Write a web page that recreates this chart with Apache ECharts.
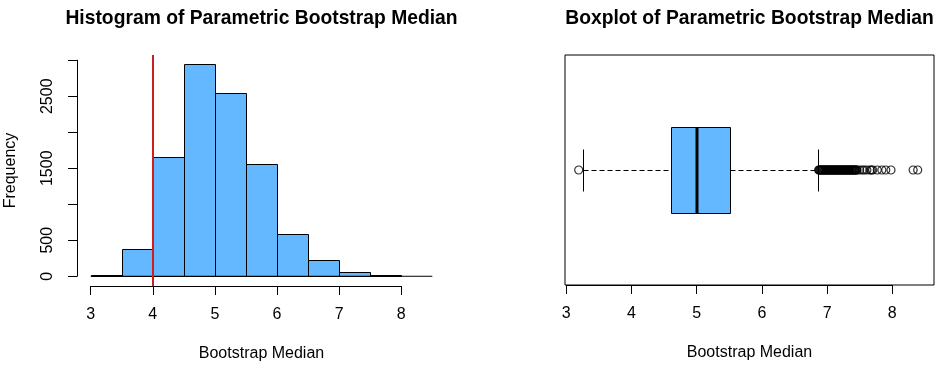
<!DOCTYPE html>
<html><head><meta charset="utf-8">
<script src="https://cdn.jsdelivr.net/npm/echarts@6/dist/echarts.min.js"></script>
<style>html,body{margin:0;padding:0;background:#fff}#c{width:947px;height:370px}</style>
</head><body><div id="c"></div>
<script>
// ---- data ----
const binEdges = [3, 3.5, 4, 4.5, 5, 5.5, 6, 6.5, 7, 7.5, 8];
const binCounts = [15, 375, 1653, 2944, 2542, 1556, 588, 222, 56, 14];
const xTicks = [3, 4, 5, 6, 7, 8];
const xTickLabels = ['3', '4', '5', '6', '7', '8'];
const yTicks = [0, 500, 1000, 1500, 2000, 2500, 3000];
const yTickLabels = ['0', '500', '', '1500', '', '2500', ''];
const refLineX = 4;
const baselineRange = [3, 8.5];
const boxStats = [3.26, 4.60, 5.01, 5.51, 6.86]; // low whisker, Q1, median, Q3, high whisker
const lowOutliers = [3.19];
const highOutliers = [6.87, 6.88, 6.89, 6.90, 6.91, 6.92, 6.93, 6.94, 6.95, 6.96, 6.97, 6.98,
  6.99, 7.00, 7.01, 7.02, 7.03, 7.04, 7.05, 7.06, 7.07, 7.08, 7.09, 7.10, 7.11, 7.12, 7.13,
  7.14, 7.15, 7.16, 7.17, 7.18, 7.19, 7.20, 7.21, 7.22, 7.23, 7.24, 7.25, 7.26, 7.27, 7.28,
  7.29, 7.30, 7.31, 7.32, 7.33, 7.34, 7.35, 7.36, 7.37, 7.38, 7.39, 7.40, 7.41, 7.42, 7.43,
  7.44, 7.45, 7.46, 7.50, 7.54, 7.57, 7.61, 7.66, 7.68, 7.70, 7.77, 7.84, 7.90, 7.98, 8.32, 8.39];
const histTitle = 'Histogram of Parametric Bootstrap Median';
const boxTitle = 'Boxplot of Parametric Bootstrap Median';
const xName = 'Bootstrap Median';
const yName = 'Frequency';

// ---- layout ----
const FONT = '"Liberation Sans", Arial, sans-serif';
const H = {left: 77, top: 55, width: 369, height: 231, xMin: 2.78, xMax: 8.72, yMin: -135, yMax: 3073};
const B = {left: 565, top: 55, width: 369, height: 230, xMin: 2.98, xMax: 8.64, yMin: 0.46, yMax: 1.54};
const hx = v => H.left + (v - H.xMin) / (H.xMax - H.xMin) * H.width;
const hy = v => H.top + H.height - (v - H.yMin) / (H.yMax - H.yMin) * H.height;
const bx = v => B.left + (v - B.xMin) / (B.xMax - B.xMin) * B.width;
const tMin = xTicks[0], tMax = xTicks[xTicks.length - 1];
const yTMin = yTicks[0], yTMax = yTicks[yTicks.length - 1];

const labelStyle = {color: '#000', fontSize: 16, fontFamily: FONT};
const blackLine = {color: '#000', width: 1};
const hidden = {show: false};
const nameOnly = {axisLine: hidden, axisTick: hidden, axisLabel: hidden, splitLine: hidden};

const chart = echarts.init(document.getElementById('c'), null, {renderer: 'canvas'});
const crisp = v => Math.round(v) + 0.5;
const tickFmt = v => xTickLabels[xTicks.indexOf(v)] ?? '';

chart.setOption({
  animation: false,
  backgroundColor: '#fff',
  graphic: [
    {type: 'text', x: H.left + H.width / 2, y: 18.5,
     style: {text: histTitle, font: 'bold 19.3px ' + FONT, fill: '#000', align: 'center', verticalAlign: 'middle'}},
    {type: 'text', x: B.left + B.width / 2, y: 18.5,
     style: {text: boxTitle, font: 'bold 19.3px ' + FONT, fill: '#000', align: 'center', verticalAlign: 'middle'}}
  ],
  grid: [
    {left: H.left, top: H.top, width: H.width, height: H.height},
    {left: hx(tMin), top: H.top, width: hx(tMax) - hx(tMin), height: H.height},
    {left: H.left, top: hy(yTMax), width: H.width, height: hy(yTMin) - hy(yTMax)},
    {left: B.left, top: B.top, width: B.width, height: B.height, show: true, borderColor: '#000', borderWidth: 1, backgroundColor: 'transparent'},
    {left: bx(tMin), top: B.top, width: bx(tMax) - bx(tMin), height: B.height}
  ],
  xAxis: [
    Object.assign({gridIndex: 0, type: 'value', min: H.xMin, max: H.xMax,
     name: xName, nameLocation: 'middle', nameGap: 60, nameTextStyle: labelStyle}, nameOnly),
    {gridIndex: 1, type: 'value', min: tMin, max: tMax, interval: 1,
     axisLine: {show: true, lineStyle: blackLine}, axisTick: {show: true, length: 9, lineStyle: blackLine},
     axisLabel: Object.assign({margin: 21, formatter: tickFmt}, labelStyle), splitLine: hidden},
    {gridIndex: 2, type: 'value', min: 0, max: 1, show: false},
    Object.assign({gridIndex: 3, type: 'value', min: B.xMin, max: B.xMax,
     name: xName, nameLocation: 'middle', nameGap: 60, nameTextStyle: labelStyle}, nameOnly),
    {gridIndex: 4, type: 'value', min: tMin, max: tMax, interval: 1,
     axisLine: {show: true, lineStyle: blackLine}, axisTick: {show: true, length: 9, lineStyle: blackLine},
     axisLabel: Object.assign({margin: 21, formatter: tickFmt}, labelStyle), splitLine: hidden}
  ],
  yAxis: [
    Object.assign({gridIndex: 0, type: 'value', min: H.yMin, max: H.yMax,
     name: yName, nameLocation: 'middle', nameGap: 58, nameTextStyle: labelStyle}, nameOnly),
    {gridIndex: 1, type: 'value', min: 0, max: 1, show: false},
    {gridIndex: 2, type: 'value', min: yTMin, max: yTMax, interval: 500,
     axisLine: {show: true, lineStyle: blackLine}, axisTick: {show: true, length: 9, lineStyle: blackLine},
     axisLabel: Object.assign({margin: 21, rotate: 90, formatter: v => yTickLabels[yTicks.indexOf(v)] ?? '', showMinLabel: true, showMaxLabel: true}, labelStyle),
     splitLine: hidden},
    {gridIndex: 3, type: 'value', min: B.yMin, max: B.yMax, show: false},
    {gridIndex: 4, type: 'value', min: 0, max: 1, show: false}
  ],
  series: [
    {
      type: 'custom', xAxisIndex: 0, yAxisIndex: 0, clip: false,
      data: binCounts.map((c, i) => [binEdges[i], binEdges[i + 1], c]),
      encode: {x: [0, 1], y: 2},
      renderItem: (params, api) => {
        const p0 = api.coord([api.value(0), api.value(2)]);
        const p1 = api.coord([api.value(1), 0]);
        const x0 = crisp(p0[0]), x1 = crisp(p1[0]), y0 = crisp(p0[1]), y1 = crisp(p1[1]);
        return {type: 'rect', shape: {x: x0, y: y0, width: x1 - x0, height: y1 - y0},
                style: {fill: '#63B8FF', stroke: '#000', lineWidth: 1}};
      }
    },
    {
      type: 'line', xAxisIndex: 0, yAxisIndex: 0, symbol: 'none', silent: true,
      data: [[baselineRange[0], 0], [baselineRange[1], 0]],
      lineStyle: {color: '#000', width: 1}
    },
    {
      type: 'line', xAxisIndex: 0, yAxisIndex: 0, data: [], silent: true,
      markLine: {symbol: 'none', silent: true, label: {show: false},
        lineStyle: {color: '#CC2020', width: 2, type: 'solid'},
        data: [{xAxis: refLineX}]}
    },
    {
      type: 'custom', xAxisIndex: 3, yAxisIndex: 3, clip: false,
      data: [boxStats],
      encode: {x: [0, 1, 2, 3, 4]},
      renderItem: (params, api) => {
        const yc = 1, half = 0.2, cap = 0.1;
        const X = v => api.coord([v, yc])[0];
        const Y = v => api.coord([boxStats[0], v])[1];
        const lo = crisp(X(api.value(0))), q1 = crisp(X(api.value(1))), md = X(api.value(2)),
              q3 = crisp(X(api.value(3))), hi = crisp(X(api.value(4)));
        const ym = crisp(Y(yc)), yt = crisp(Y(yc + half)), yb = crisp(Y(yc - half));
        const ct = crisp(Y(yc + cap)), cb = crisp(Y(yc - cap));
        const dash = {stroke: '#000', lineWidth: 1, lineDash: [5, 3]};
        const solid = {stroke: '#000', lineWidth: 1};
        return {type: 'group', children: [
          {type: 'line', shape: {x1: lo, y1: ym, x2: q1, y2: ym}, style: dash},
          {type: 'line', shape: {x1: q3, y1: ym, x2: hi, y2: ym}, style: dash},
          {type: 'line', shape: {x1: lo, y1: ct, x2: lo, y2: cb}, style: solid},
          {type: 'line', shape: {x1: hi, y1: ct, x2: hi, y2: cb}, style: solid},
          {type: 'rect', shape: {x: q1, y: yt, width: q3 - q1, height: yb - yt}, style: {fill: '#63B8FF', stroke: '#000', lineWidth: 1}},
          {type: 'line', shape: {x1: Math.round(md), y1: yt, x2: Math.round(md), y2: yb}, style: {stroke: '#000', lineWidth: 3}}
        ]};
      }
    },
    {
      type: 'scatter', xAxisIndex: 3, yAxisIndex: 3, silent: true,
      symbol: 'circle', symbolSize: 8,
      itemStyle: {color: 'rgba(0,0,0,0)', borderColor: '#000', borderWidth: 1.2},
      data: lowOutliers.concat(highOutliers).map(v => [v, 1])
    }
  ]
});
</script>
</body></html>
